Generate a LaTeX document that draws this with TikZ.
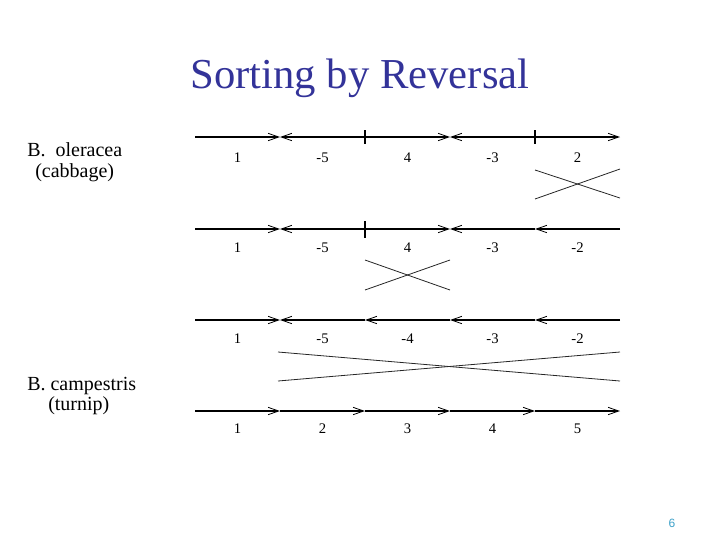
\documentclass[tikz,border=0pt]{standalone}
\usepackage{fontspec}
\setmainfont{Liberation Serif}
\setsansfont{Liberation Sans}
\usetikzlibrary{arrows.meta}
\definecolor{titleblue}{RGB}{51,51,153}
\definecolor{pagecyan}{RGB}{60,160,200}
\tikzset{
  barb/.style={-{Straight Barb[length=8pt,width=5.5pt,line width=0.6pt]}},
  thingene/.style={barb,line width=0.8pt},
  thickgene/.style={barb,line width=1.5pt},
  flip/.style={line width=0.6pt,black!85},
  num/.style={anchor=base,inner sep=0pt,font=\fontsize{11}{13}\selectfont},
  species/.style={anchor=base west,inner sep=0pt,font=\fontsize{15}{18}\selectfont}
}

\begin{document}
\begin{tikzpicture}[x=0.75pt,y=0.75pt,yscale=-1]
\path (0,0) rectangle (720,540); %whole slide

%Title
\node[anchor=base,inner sep=0pt,text=titleblue,font=\fontsize{32}{36}\selectfont] (title) at (360,88) {Sorting by Reversal};

%Species labels
\node[species] (olr) at (27,156) {B.\ \ oleracea};
\node[species] (cab) at (35,177) {(cabbage)};
\node[species] (cmp) at (27,390) {B. campestris};
\node[species] (trn) at (48,410) {(turnip)};

%Row 1: 1 -5 4 -3 2
\foreach \a/\b in {195/280,365/280,365/450,535/450,535/620}
  \draw[thingene] (\a,137) -- (\b,137);
\draw[line width=0.8pt] (365,130) -- (365,144);
\draw[line width=0.8pt] (535,130) -- (535,144);
\foreach \t [count=\i] in {1,-5,4,-3,2}
  \node[num] (ra\i) at ({152.5+85*\i},162) {\t};
%reversal of 2
\draw[flip] (535,170) -- (620,198);
\draw[flip] (535,199) -- (620,169);

%Row 2: 1 -5 4 -3 -2
\foreach \a/\b in {195/280,365/280,365/450,535/450,620/535}
  \draw[thickgene] (\a,229) -- (\b,229);
\draw[line width=0.8pt] (365,221) -- (365,238);
\foreach \t [count=\i] in {1,-5,4,-3,-2}
  \node[num] (rb\i) at ({152.5+85*\i},252) {\t};
%reversal of 4
\draw[flip] (365,260) -- (450,290);
\draw[flip] (365,290) -- (450,260);

%Row 3: 1 -5 -4 -3 -2
\foreach \a/\b in {195/280,365/280,450/365,535/450,620/535}
  \draw[thickgene] (\a,320) -- (\b,320);
\foreach \t [count=\i] in {1,-5,-4,-3,-2}
  \node[num] (rc\i) at ({152.5+85*\i},343) {\t};
%reversal of -5 ... -2
\draw[flip] (278,352) -- (620,381);
\draw[flip] (278,381) -- (620,352);

%Row 4: 1 2 3 4 5
\foreach \a/\b in {195/280,280/365,365/450,450/535,535/620}
  \draw[thickgene] (\a,411) -- (\b,411);
\foreach \t [count=\i] in {1,2,3,4,5}
  \node[num] (rd\i) at ({152.5+85*\i},433) {\t};

%Page number
\node[anchor=base,inner sep=0pt,text=pagecyan,font=\sffamily\fontsize{9}{10}\selectfont] (page) at (672,527) {6};
\end{tikzpicture}
\end{document}
